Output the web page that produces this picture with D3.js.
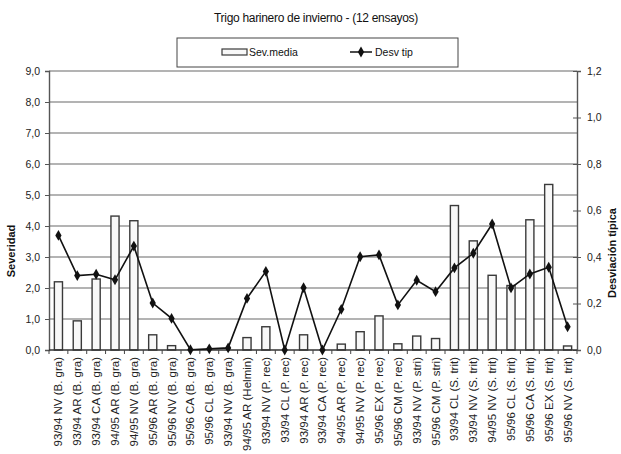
<!DOCTYPE html>
<html><head><meta charset="utf-8">
<script src="https://cdn.jsdelivr.net/npm/d3@7"></script>
<style>
html,body{margin:0;padding:0;background:#fff;}
svg{display:block;font-family:"Liberation Sans",Arial,sans-serif;}
</style></head>
<body>
<svg id="chart" width="621" height="454"></svg>
<script>
const categories = [
  "93/94 NV (B. gra)","93/94 AR (B. gra)","93/94 CA (B. gra)","94/95 AR (B. gra)",
  "94/95 NV (B. gra)","95/96 AR (B. gra)","95/96 NV (B. gra)","95/96 CA (B. gra)",
  "95/96 CL (B. gra)","93/94 NV (B. gra)","94/95 AR (Helmin)","93/94 NV (P. rec)",
  "93/94 CL (P. rec)","93/94 AR (P. rec)","93/94 CA (P. rec)","94/95 AR (P. rec)",
  "94/95 NV (P. rec)","95/96 EX (P. rec)","95/96 CM (P. rec)","93/94 NV (P. stri)",
  "95/96 CM (P. stri)","93/94 CL (S. trit)","93/94 NV (S. trit)","94/95 NV (S. trit)",
  "95/96 CL (S. trit)","95/96 CA (S. trit)","95/96 EX (S. trit)","95/96 NV (S. trit)"
];
const sevMedia = [2.2,0.94,2.29,4.32,4.17,0.49,0.14,0,0,0,0.40,0.75,0,0.49,0,0.19,0.59,1.1,0.2,0.45,0.37,4.66,3.52,2.41,2.08,4.2,5.34,0.13];
const desvTip = [0.493,0.32,0.326,0.302,0.447,0.202,0.136,0.001,0.005,0.009,0.222,0.338,0,0.268,0,0.175,0.401,0.409,0.194,0.30,0.251,0.353,0.416,0.542,0.267,0.327,0.356,0.10];
const leftTicks = [0,1,2,3,4,5,6,7,8,9];
const rightTicks = [0,0.2,0.4,0.6,0.8,1.0,1.2];
const titleText = "Trigo harinero de invierno - (12 ensayos)";
const leftTitle = "Severidad";
const rightTitle = "Desviación típica";
const legendLabels = ["Sev.media","Desv tip"];

const svg = d3.select("#chart");
const L = 49, R = 577, T = 71, B = 350;
const fmt = v => v.toFixed(1).replace(".", ",");
const idx = d3.range(categories.length);

const x = d3.scaleBand().domain(idx).range([L, R]).paddingInner(0.57).paddingOuter(0.285);
const xb = d3.scaleBand().domain(idx).range([L, R]);
const y = d3.scaleLinear().domain([0, 9]).range([B, T]);
const y2 = d3.scaleLinear().domain([0, 1.2]).range([B, T]);

// gridlines
svg.append("g").selectAll("line").data(leftTicks.filter(d => d > 0)).join("line")
  .attr("x1", L).attr("x2", R).attr("y1", d => y(d)).attr("y2", d => y(d))
  .attr("stroke", "#9a9a9a").attr("stroke-width", 1.4);

// bars
svg.append("g").selectAll("rect").data(sevMedia).join("rect")
  .attr("x", (d, i) => x(i))
  .attr("width", x.bandwidth())
  .attr("y", d => y(d))
  .attr("height", d => B - y(d))
  .attr("fill", "#f8f8f8").attr("stroke", "#3a3a3a").attr("stroke-width", 1.4);

// left axis
const la = d3.axisLeft(y).tickValues(leftTicks).tickFormat(fmt).tickSize(4).tickPadding(5);
const gl = svg.append("g").attr("transform", `translate(${L},0)`).call(la);
gl.select(".domain").attr("stroke", "#555").attr("stroke-width", 1.4);
gl.selectAll(".tick line").attr("stroke", "#555");
gl.selectAll("text").attr("font-size", 10.5).attr("fill", "#222");

// right axis
const ra = d3.axisRight(y2).tickValues(rightTicks).tickFormat(fmt).tickSize(4).tickPadding(6);
const gr = svg.append("g").attr("transform", `translate(${R},0)`).call(ra);
gr.select(".domain").attr("stroke", "#555").attr("stroke-width", 1.4);
gr.selectAll(".tick line").attr("stroke", "#555").attr("x1", -4);
gr.selectAll("text").attr("font-size", 10.5).attr("fill", "#222");

// bottom axis with ticks at band boundaries
const gb = svg.append("g");
gb.append("line").attr("x1", L).attr("x2", R).attr("y1", B).attr("y2", B)
  .attr("stroke", "#333").attr("stroke-width", 1.5);
gb.selectAll("line.bt").data(idx.concat([categories.length])).join("line").attr("class","bt")
  .attr("x1", d => d < categories.length ? xb(d) : R)
  .attr("x2", d => d < categories.length ? xb(d) : R)
  .attr("y1", B).attr("y2", B + 4).attr("stroke", "#444").attr("stroke-width", 1);
gb.selectAll("text").data(idx).join("text")
  .attr("transform", d => `translate(${xb(d) + xb.bandwidth() / 2 + 4},${B + 7}) rotate(-90)`)
  .attr("text-anchor", "end").attr("font-size", 11.5).attr("fill", "#222")
  .text(d => categories[d]);

// line series
const line = d3.line().x((d, i) => x(i) + x.bandwidth() / 2).y(d => y2(d));
svg.append("path").datum(desvTip).attr("d", line)
  .attr("fill", "none").attr("stroke", "#111").attr("stroke-width", 1.6);
const diamond = d3.symbol().type(d3.symbolDiamond).size(34);
svg.append("g").selectAll("path").data(desvTip).join("path")
  .attr("transform", (d, i) => `translate(${x(i) + x.bandwidth() / 2},${y2(d)})`)
  .attr("d", diamond).attr("fill", "#111");

// title
svg.append("text").attr("x", 316).attr("y", 22).attr("text-anchor", "middle")
  .attr("font-size", 12).attr("fill", "#111").attr("letter-spacing", -0.3).text(titleText);

// axis titles
svg.append("text").attr("transform", `translate(15,251) rotate(-90)`)
  .attr("text-anchor", "middle").attr("font-size", 11).attr("font-weight", "bold")
  .attr("fill", "#111").text(leftTitle);
svg.append("text").attr("transform", `translate(616,253) rotate(-90)`)
  .attr("text-anchor", "middle").attr("font-size", 11).attr("font-weight", "bold")
  .attr("fill", "#111").text(rightTitle);

// legend
const lg = svg.append("g");
lg.append("rect").attr("x", 177).attr("y", 38).attr("width", 281).attr("height", 29)
  .attr("fill", "#fff").attr("stroke", "#444").attr("stroke-width", 1);
lg.append("rect").attr("x", 222).attr("y", 49).attr("width", 25).attr("height", 6)
  .attr("fill", "#f8f8f8").attr("stroke", "#3a3a3a").attr("stroke-width", 1.2);
lg.append("text").attr("x", 249).attr("y", 56).attr("font-size", 10.5).attr("fill", "#111").text(legendLabels[0]);
lg.append("line").attr("x1", 350).attr("x2", 372).attr("y1", 52).attr("y2", 52)
  .attr("stroke", "#111").attr("stroke-width", 1.5);
lg.append("path").attr("transform", "translate(361,52)").attr("d", diamond).attr("fill", "#111");
lg.append("text").attr("x", 375).attr("y", 56).attr("font-size", 10.5).attr("fill", "#111").text(legendLabels[1]);
</script>
</body></html>
